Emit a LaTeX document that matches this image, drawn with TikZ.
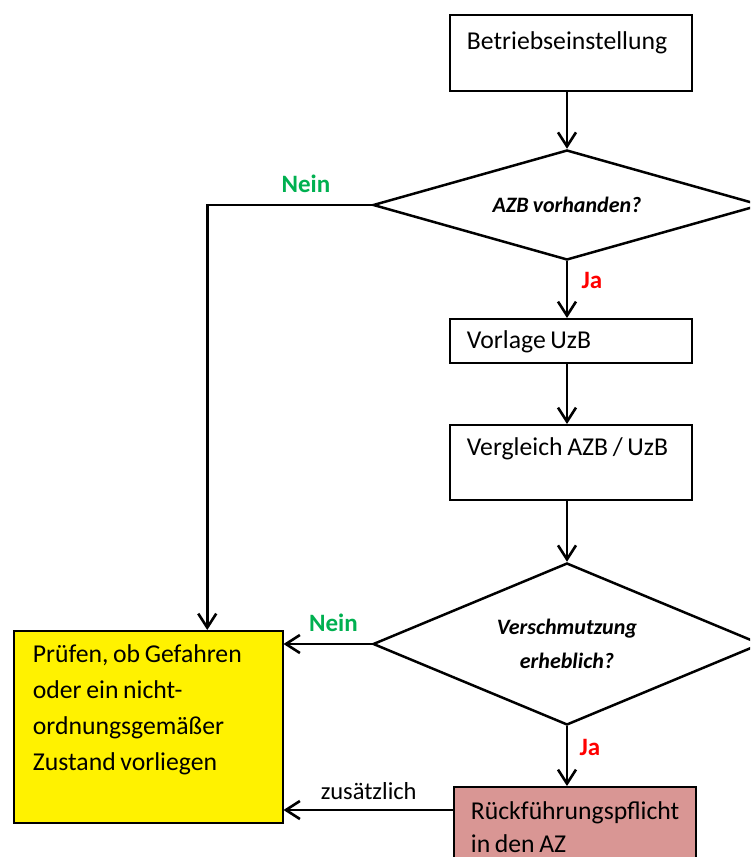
\documentclass[tikz,border=0pt]{standalone}
\usepackage{fontspec}
\setmainfont{Carlito}[WordSpace=0.8]
\usetikzlibrary{shapes.geometric,arrows.meta}
\definecolor{neingreen}{RGB}{0,176,80}
\definecolor{boxpink}{RGB}{217,150,148}
\begin{document}
\begin{tikzpicture}[x=1pt,y=-1pt,>={Straight Barb[length=14pt,width=18pt]},
  box/.style={draw,line width=1.8pt,anchor=north west,align=flush left,inner ysep=0pt,inner xsep=17pt,font=\fontsize{25.7}{33.5}\selectfont},
  decision/.style={draw,shape=diamond,line width=2.5pt,inner sep=0pt,minimum width=388pt,align=center,font=\fontsize{22}{33.3}\selectfont\bfseries\itshape},
  lbl/.style={anchor=base,inner sep=0pt,font=\fontsize{25}{30}\selectfont\bfseries},
  link/.style={->,line width=2.6pt}]
\useasboundingbox (0,0) rectangle (750,857);
\clip (0,0) rectangle (750,857);

\node[box,text width=208pt,text height=34.5pt,text depth=41.5pt] (betrieb) at (449,14) {Betriebseinstellung};
\node[decision,aspect=3.53,minimum height=110pt] (azb) at (567,205) {AZB vorhanden?};
\node[box,text width=208pt,text height=29.7pt,text depth=14.3pt] (vorlage) at (449,318) {Vorlage UzB};
\node[box,text width=208pt,text height=30.3pt,text depth=44.7pt] (vergleich) at (449,424) {Vergleich AZB / UzB};
\node[decision,aspect=2.4,minimum height=162pt] (schmutz) at (567,644) {Verschmutzung\\erheblich?};
\node[box,fill=yellow,inner xsep=19pt,text width=230.7pt,text height=32pt,text depth=160.3pt,font=\fontsize{25.7}{35.7}\selectfont] (pruefen) at (13,630) {Prüfen, ob Gefahren\\oder ein nicht-\\ordnungsgemäßer\\Zustand vorliegen};
\node[box,fill=boxpink,text width=208pt,text height=32.3pt,text depth=61.7pt] (rueck) at (453,786) {Rückführungspflicht\\in den AZ};

\node[lbl,text=neingreen] (nein1) at (306,192) {Nein};
\node[lbl,text=red] (ja1) at (592,288) {Ja};
\node[lbl,text=neingreen] (nein2) at (333.5,631) {Nein};
\node[lbl,text=red] (ja2) at (590,755) {Ja};
\node[anchor=base,inner sep=0pt,font=\fontsize{24.5}{30}\selectfont] (zus) at (368.7,799) {zusätzlich};

\draw[link] (betrieb.south -| azb.north) -- (azb.north);
\draw[link] (azb.south) -- (azb.south |- vorlage.north);
\draw[link] (vorlage.south -| azb.south) -- (azb.south |- vergleich.north);
\draw[link] (vergleich.south -| schmutz.north) -- (schmutz.north);
\draw[link] (schmutz.south) -- (schmutz.south |- rueck.north);
\draw[link] (azb.west) -| ([xshift=59pt]pruefen.north);
\draw[link] (schmutz.west) -- (schmutz.west -| pruefen.east);
\coordinate (zstart) at ([yshift=-24pt]rueck.north west);
\draw[link] (zstart) -- (zstart -| pruefen.east);
\end{tikzpicture}
\end{document}
